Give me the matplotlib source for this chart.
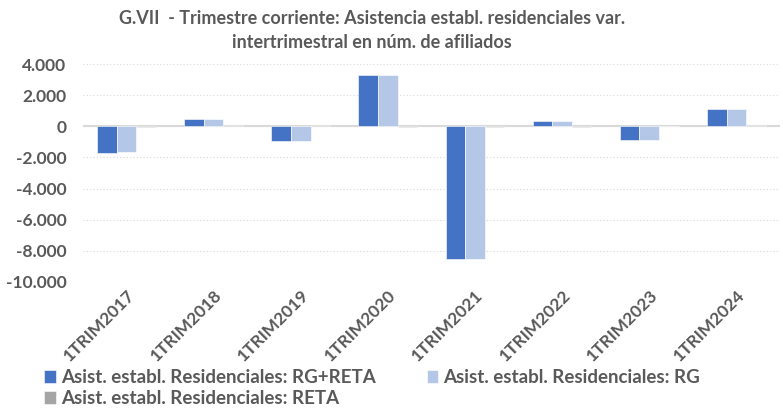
import numpy as np
import matplotlib
matplotlib.use('Agg')
from matplotlib import pyplot as plt
from matplotlib.ticker import FuncFormatter

# data
periodos = ['1TRIM2017', '1TRIM2018', '1TRIM2019', '1TRIM2020',
            '1TRIM2021', '1TRIM2022', '1TRIM2023', '1TRIM2024']
rg_reta = [-1720, 450, -970, 3330, -8520, 370, -880, 1140]
rg = [-1650, 450, -960, 3330, -8510, 380, -880, 1140]
reta = [-40, 70, 60, -10, -20, -10, 0, 80]

series = ['Asist. establ. Residenciales: RG+RETA',
          'Asist. establ. Residenciales: RG',
          'Asist. establ. Residenciales: RETA']
colores = ['#4472C4', '#B4C7E7', '#A5A5A5']
gris = '#595959'

plt.rcParams['font.family'] = ['Lato', 'DejaVu Sans']

fig = plt.figure(figsize=(7.83, 4.08), dpi=100)
ax = fig.add_axes([0.106, 0.3096, 0.89, 0.5328])

x = np.arange(len(periodos))
w = 0.225
barras = []
for i, (vals, lab, col) in enumerate(zip([rg_reta, rg, reta], series, colores)):
    b = ax.bar(x + (i - 1) * w, vals, width=w, color=col, label=lab,
               edgecolor='white', linewidth=0.4, zorder=3)
    barras.append(b)

ax.set_xlim(-0.5, len(periodos) - 0.5)
ax.set_ylim(-10000, 4000)
ax.set_yticks(np.arange(-10000, 4001, 2000))
ax.yaxis.set_major_formatter(FuncFormatter(lambda v, p: '{:,.0f}'.format(v).replace(',', '.')))
ax.grid(axis='y', color='#D9D9D9', linestyle=(0, (1, 2)), linewidth=0.8, zorder=0)
ax.axhline(0, color='#D9D9D9', linewidth=1.5, zorder=2)

for s in ax.spines.values():
    s.set_visible(False)
ax.tick_params(length=0, colors=gris)
ax.tick_params(axis='y', pad=12)
ax.tick_params(axis='x', pad=4)
ax.set_xticks(x)
ax.set_xticklabels(periodos, rotation=45, ha='right', rotation_mode='anchor')
for t in ax.get_yticklabels() + ax.get_xticklabels():
    t.set_fontweight('bold')
    t.set_fontsize(12.5)
    t.set_color(gris)

fig.text(0.475, 0.955, 'G.VII  - Trimestre corriente: Asistencia establ. residenciales var.',
         ha='center', va='center', fontsize=13, fontweight='bold', color=gris)
fig.text(0.475, 0.895, 'intertrimestral en núm. de afiliados',
         ha='center', va='center', fontsize=13, fontweight='bold', color=gris)

# row-wise order: RG+RETA, RG / RETA
orden = [0, 2, 1]
leg = fig.legend([barras[k] for k in orden], [series[k] for k in orden],
                 loc='lower left', bbox_to_anchor=(0.035, -0.04), ncol=2, frameon=False,
                 prop={'weight': 'bold', 'size': 13.5}, handlelength=0.6, handleheight=0.7,
                 handletextpad=0.3, columnspacing=2.7, labelspacing=0.25)
for t in leg.get_texts():
    t.set_color(gris)

fig.savefig('out.png', dpi=100)
plt.close(fig)
